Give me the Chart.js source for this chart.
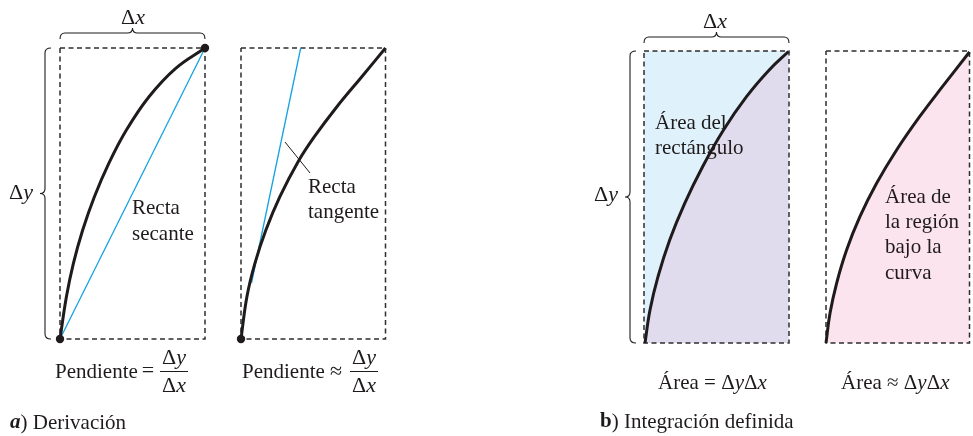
<!DOCTYPE html>
<html>
<head>
<meta charset="utf-8">
<script src="https://cdn.jsdelivr.net/npm/chart.js@4/dist/chart.umd.min.js"></script>
<style>
  html, body { margin: 0; padding: 0; background: #fff; }
  canvas { display: block; }
</style>
</head>
<body>
<canvas id="chart" width="973" height="436"></canvas>
<script>
// curve samples (page units, y grows downward)
const secantCurveX = [60, 66.4, 73.4, 82.7, 94.4, 108.8, 126.4, 149, 175.7, 205];
const secantCurveY = [339, 296.7, 263.3, 230, 196.7, 163.3, 130, 96.7, 68.3, 48];
const tangentCurveX = [241, 246.9, 254.9, 265.9, 279.9, 298.1, 314.4, 336.9, 361.8, 385.5];
const tangentCurveY = [339, 296.7, 263.3, 230, 196.7, 161.7, 136.7, 106.7, 76.7, 48];
const rectCurveX = [645, 650, 658, 669.7, 684.7, 702.6, 723.5, 746.5, 769.2, 788.5];
const rectCurveY = [343, 310, 276.7, 240, 203.3, 166.7, 130, 96.7, 70, 51.5];
const regionCurveX = [826, 830, 836.6, 846.6, 859.9, 876.6, 896.6, 919.6, 942.4, 969.5];
const regionCurveY = [343, 313.3, 283.3, 250, 216.7, 183.3, 150, 116.7, 86.7, 52];

// dashed frames: [left, right, top, bottom]
const frameA1 = [60, 205, 48, 339];
const frameA2 = [241, 385.5, 48, 339];
const frameB1 = [644, 789, 51, 343];
const frameB2 = [826, 969.5, 51, 343];

const secantX = [60, 205];
const secantY = [339, 48];
const tangentX = [251.5, 300.7];
const tangentY = [283, 48];
const leaderX = [285, 310];
const leaderY = [142, 173];
const dotsX = [60, 205, 241];
const dotsY = [339, 48, 339];

// braces: [x1, y1, x2, y2, normalX, normalY]
const braces = [
    [60, 33, 205, 33, 0, -1],
    [45, 48, 45, 339, -1, 0],
    [644, 37, 789, 37, 0, -1],
    [630, 51, 630, 343, -1, 0]
];

const ink = '#1f1b1c';
const blue = '#15a2e2';

function pts(xs, ys) {
    return xs.map((x, i) => ({x: x, y: ys[i]}));
}
function frame(f) {
    return pts([f[0], f[1], f[1], f[0], f[0]], [f[2], f[2], f[3], f[3], f[2]]);
}
function dashed(f) {
    return {data: frame(f), showLine: true, borderColor: '#2e2e2e', borderWidth: 1.5,
        borderDash: [5, 3.5], pointRadius: 0, order: 5};
}
function curve(xs, ys) {
    return {data: pts(xs, ys), showLine: true, borderColor: ink, borderWidth: 3,
        pointRadius: 0, tension: 0.4, order: 1};
}

const texts = [
    {t: 'Δ*x*', x: 133, y: 18, a: 'center', s: 22},
    {t: 'Δ*y*', x: 33, y: 193, a: 'right', s: 22},
    {t: 'Recta', x: 132, y: 208},
    {t: 'secante', x: 132, y: 234},
    {t: 'Recta', x: 308, y: 187},
    {t: 'tangente', x: 308, y: 212},
    {t: 'Pendiente', x: 55, y: 372},
    {t: '=', x: 148, y: 371, a: 'center', s: 22},
    {t: 'Δ*y*', x: 174, y: 358, a: 'center', s: 22},
    {t: 'Δ*x*', x: 174, y: 386, a: 'center', s: 22},
    {t: 'Pendiente', x: 242, y: 372},
    {t: '≈', x: 336, y: 372, a: 'center', s: 22},
    {t: 'Δ*y*', x: 364, y: 358, a: 'center', s: 22},
    {t: 'Δ*x*', x: 364, y: 386, a: 'center', s: 22},
    {t: '~a~) Derivación', x: 10, y: 423},
    {t: 'Δ*x*', x: 715, y: 22, a: 'center', s: 22},
    {t: 'Δ*y*', x: 618, y: 195, a: 'right', s: 22},
    {t: 'Área del', x: 655, y: 123},
    {t: 'rectángulo', x: 655, y: 148},
    {t: 'Área de', x: 885, y: 197},
    {t: 'la región', x: 885, y: 222},
    {t: 'bajo la', x: 885, y: 247},
    {t: 'curva', x: 885, y: 273},
    {t: 'Área = Δ*y*Δ*x*', x: 658, y: 383},
    {t: 'Área ≈ Δ*y*Δ*x*', x: 841, y: 383},
    {t: '#b#) Integración definida', x: 600, y: 422}
];

// split "*italic*", "~bold italic~", "#bold#" into runs
function runs(str) {
    const out = [];
    let style = '';
    let buf = '';
    const marks = {'*': 'italic ', '~': 'italic bold ', '#': 'bold '};
    for (const ch of str) {
        if (marks[ch] !== undefined) {
            if (buf) out.push({t: buf, st: style});
            buf = '';
            style = style ? '' : marks[ch];
        } else {
            buf += ch;
        }
    }
    if (buf) out.push({t: buf, st: style});
    return out;
}

const bracePlugin = {
    id: 'braces',
    afterDatasetsDraw(chart) {
        const ctx = chart.ctx;
        const sx = chart.scales.x, sy = chart.scales.y;
        ctx.save();
        ctx.strokeStyle = ink;
        ctx.lineWidth = 1.1;
        braces.forEach(b => {
            const x1 = sx.getPixelForValue(b[0]), y1 = sy.getPixelForValue(b[1]);
            const x2 = sx.getPixelForValue(b[2]), y2 = sy.getPixelForValue(b[3]);
            const nx = b[4], ny = b[5];
            const len = Math.hypot(x2 - x1, y2 - y1);
            const ux = (x2 - x1) / len, uy = (y2 - y1) / len;
            const d = 6, r = 5, tip = 5;
            const P = (s, n) => [x1 + ux * s + nx * n, y1 + uy * s + ny * n];
            const m = len / 2;
            ctx.beginPath();
            let p = P(0, -d); ctx.moveTo(p[0], p[1]);
            let c = P(0, 0); p = P(r, 0); ctx.quadraticCurveTo(c[0], c[1], p[0], p[1]);
            p = P(m - r, 0); ctx.lineTo(p[0], p[1]);
            c = P(m, 0); p = P(m, tip); ctx.quadraticCurveTo(c[0], c[1], p[0], p[1]);
            c = P(m, 0); p = P(m + r, 0); ctx.quadraticCurveTo(c[0], c[1], p[0], p[1]);
            p = P(len - r, 0); ctx.lineTo(p[0], p[1]);
            c = P(len, 0); p = P(len, -d); ctx.quadraticCurveTo(c[0], c[1], p[0], p[1]);
            ctx.stroke();
        });
        ctx.restore();
    }
};

const textPlugin = {
    id: 'texts',
    afterDraw(chart) {
        const ctx = chart.ctx;
        const sx = chart.scales.x, sy = chart.scales.y;
        ctx.save();
        ctx.fillStyle = ink;
        ctx.textBaseline = 'middle';
        ctx.textAlign = 'left';
        texts.forEach(item => {
            const size = item.s || 21;
            const parts = runs(item.t);
            let w = 0;
            parts.forEach(r => {
                ctx.font = r.st + size + 'px "Liberation Serif"';
                r.w = ctx.measureText(r.t).width;
                w += r.w;
            });
            let x = sx.getPixelForValue(item.x);
            const y = sy.getPixelForValue(item.y);
            if (item.a === 'center') x -= w / 2;
            if (item.a === 'right') x -= w;
            parts.forEach(r => {
                ctx.font = r.st + size + 'px "Liberation Serif"';
                ctx.fillText(r.t, x, y);
                x += r.w;
            });
        });
        ctx.restore();
    }
};

new Chart(document.getElementById('chart'), {
    type: 'scatter',
    data: {
        datasets: [
            // fills
            {data: pts([frameB1[0], frameB1[1]], [frameB1[2], frameB1[2]]), showLine: true,
                borderWidth: 0, pointRadius: 0, backgroundColor: '#dff1fb', fill: {value: frameB1[3]}, order: 9},
            {data: pts(rectCurveX, rectCurveY), showLine: true, borderWidth: 0, pointRadius: 0,
                tension: 0.4, backgroundColor: '#e0dcee', fill: {value: frameB1[3]}, order: 8},
            {data: pts(regionCurveX, regionCurveY), showLine: true, borderWidth: 0, pointRadius: 0,
                tension: 0.4, backgroundColor: '#fce4ee', fill: {value: frameB2[3]}, order: 8},
            dashed(frameA1), dashed(frameA2), dashed(frameB1), dashed(frameB2),
            {data: pts(secantX, secantY), showLine: true, borderColor: blue, borderWidth: 1.3, pointRadius: 0, order: 3},
            {data: pts(tangentX, tangentY), showLine: true, borderColor: blue, borderWidth: 1.3, pointRadius: 0, order: 3},
            {data: pts(leaderX, leaderY), showLine: true, borderColor: ink, borderWidth: 1, pointRadius: 0, order: 3},
            {data: pts([160, 188], [371.5, 371.5]), showLine: true, borderColor: ink, borderWidth: 1, pointRadius: 0, order: 3},
            {data: pts([350, 378], [371.5, 371.5]), showLine: true, borderColor: ink, borderWidth: 1, pointRadius: 0, order: 3},
            curve(secantCurveX, secantCurveY),
            curve(tangentCurveX, tangentCurveY),
            curve(rectCurveX, rectCurveY),
            curve(regionCurveX, regionCurveY),
            {data: pts(dotsX, dotsY), pointRadius: 4.2, pointBackgroundColor: ink, pointBorderWidth: 0, order: 0}
        ]
    },
    options: {
        responsive: false,
        animation: false,
        layout: {padding: 0, autoPadding: false},
        plugins: {
            legend: {display: false},
            tooltip: {enabled: false}
        },
        scales: {
            x: {type: 'linear', min: 0, max: 973, display: false},
            y: {type: 'linear', min: 0, max: 436, reverse: true, display: false}
        }
    },
    plugins: [bracePlugin, textPlugin]
});
</script>
</body>
</html>
